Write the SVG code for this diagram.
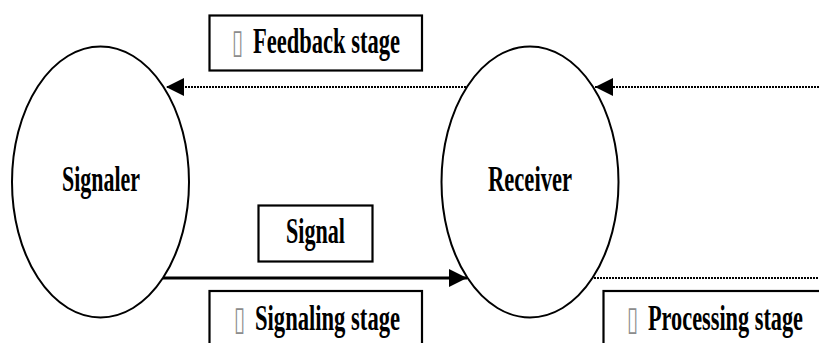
<svg xmlns="http://www.w3.org/2000/svg" width="819" height="343" viewBox="0 0 819 343">
  <style>
    .node { fill: #ffffff; stroke: #000000; stroke-width: 2; }
    .box { fill: #ffffff; stroke: #000000; stroke-width: 2.2; }
    .label { font-family: "Liberation Serif", "Times New Roman", serif; font-weight: bold; font-size: 36px; fill: #000000; }
    .mark { font-family: "DejaVu Sans", sans-serif; font-size: 34px; fill: #8c8c8c; }
    .solid { stroke: #000000; stroke-width: 3; fill: none; }
    .dotted { stroke: #000000; stroke-width: 2.2; stroke-dasharray: 2 1; fill: none; }
  </style>
  <defs>
    <marker id="arrow" viewBox="0 0 18 18" refX="18" refY="9" markerWidth="18" markerHeight="18" markerUnits="userSpaceOnUse" orient="auto">
      <path d="M0,0 L18,9 L0,18 Z" fill="#000000"/>
    </marker>
  </defs>

  <rect width="819" height="343" fill="#ffffff"/>

  <!-- connectors -->
  <g id="connectors">
    <!-- feedback: receiver back to signaler -->
    <line class="dotted" x1="466" y1="87" x2="166" y2="87" marker-end="url(#arrow)"/>
    <!-- feedback entering receiver from the right -->
    <line class="dotted" x1="819" y1="87" x2="595" y2="87" marker-end="url(#arrow)"/>
    <!-- signal: signaler to receiver -->
    <line class="solid" x1="163" y1="278" x2="467" y2="278" marker-end="url(#arrow)"/>
    <!-- processing leaving receiver -->
    <line class="dotted" x1="594" y1="278" x2="819" y2="278"/>
  </g>

  <!-- Signaler -->
  <g id="signaler">
    <ellipse class="node" cx="100.5" cy="182" rx="88.5" ry="135.5"/>
    <text class="label" x="62" y="191" textLength="78" lengthAdjust="spacingAndGlyphs">Signaler</text>
  </g>

  <!-- Receiver -->
  <g id="receiver">
    <ellipse class="node" cx="530" cy="182" rx="88.5" ry="135.5"/>
    <text class="label" x="488" y="191" textLength="84" lengthAdjust="spacingAndGlyphs">Receiver</text>
  </g>

  <!-- Signal label -->
  <g id="signal">
    <rect class="box" x="258.5" y="205.5" width="114" height="56"/>
    <text class="label" x="286" y="243" textLength="59" lengthAdjust="spacingAndGlyphs">Signal</text>
  </g>

  <!-- Feedback stage -->
  <g id="feedback-stage">
    <rect class="box" x="209.5" y="15.5" width="212.5" height="55"/>
    <text class="mark" x="232" y="53" textLength="11" lengthAdjust="spacingAndGlyphs">▯</text>
    <text class="label" x="253" y="53" textLength="147" lengthAdjust="spacingAndGlyphs">Feedback stage</text>
  </g>

  <!-- Signaling stage -->
  <g id="signaling-stage">
    <rect class="box" x="209.5" y="291" width="212.5" height="70"/>
    <text class="mark" x="234" y="330" textLength="11" lengthAdjust="spacingAndGlyphs">▯</text>
    <text class="label" x="255" y="330" textLength="145" lengthAdjust="spacingAndGlyphs">Signaling stage</text>
  </g>

  <!-- Processing stage -->
  <g id="processing-stage">
    <rect class="box" x="603.5" y="291" width="230" height="70"/>
    <text class="mark" x="627" y="330" textLength="11" lengthAdjust="spacingAndGlyphs">▯</text>
    <text class="label" x="648" y="330" textLength="155" lengthAdjust="spacingAndGlyphs">Processing stage</text>
  </g>
</svg>
